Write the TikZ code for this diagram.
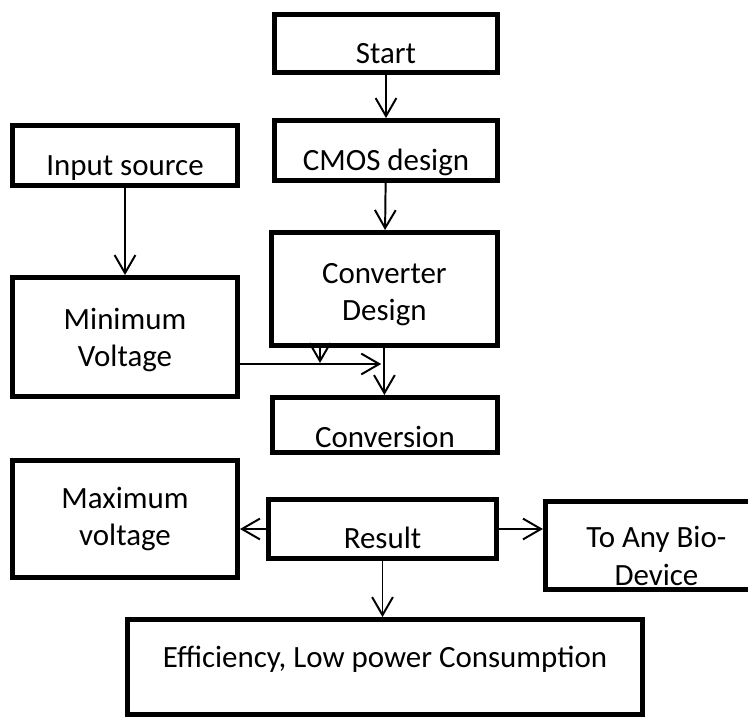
\documentclass[tikz,border=0pt]{standalone}
\usepackage{fontspec}
\setmainfont{Carlito}
\usetikzlibrary{arrows.meta, positioning, calc}

% text inside a box: first baseline raised by #1 from the box centre
\newcommand{\boxtext}[2]{\raisebox{#1}[0pt][0pt]{\begin{tabular}[t]{@{}c@{}}#2\end{tabular}}}

\begin{document}
\begin{tikzpicture}[
    block/.style={rectangle, draw=black, line width=3.5pt, fill=white,
                  font=\fontsize{22pt}{27pt}\selectfont, inner sep=0pt},
    arr/.style={-{Straight Barb[length=4.5mm, width=5.2mm]}, line width=1.4pt},
]
\useasboundingbox (0,0) rectangle (18.7,-17.95);

% Middle column
\node[block, minimum width=5.575cm, minimum height=1.45cm] (start) at (9.65,-1.0875) {\boxtext{-0.49cm}{Start}};
\node[block, minimum width=5.575cm, minimum height=1.5cm] (cmos) at (9.65,-3.7625) {\boxtext{-0.49cm}{CMOS design}};
\node[block, minimum width=5.65cm, minimum height=2.825cm] (design) at (9.61,-7.225) {\boxtext{0.15cm}{Converter\\Design}};
\node[block, minimum width=5.625cm, minimum height=1.375cm] (conversion) at (9.625,-10.625) {\boxtext{-0.55cm}{Conversion}};
\node[block, minimum width=5.7cm, minimum height=1.475cm] (result) at (9.5625,-13.225) {\boxtext{-0.475cm}{Result}};

% Left column
\node[block, minimum width=5.625cm, minimum height=1.5cm] (input) at (3.125,-3.8875) {\boxtext{-0.49cm}{Input source}};
\node[block, minimum width=5.625cm, minimum height=2.975cm] (minv) at (3.125,-8.425) {\boxtext{0.2cm}{Minimum\\Voltage}};
\node[block, minimum width=5.625cm, minimum height=2.925cm] (maxv) at (3.125,-12.975) {\boxtext{0.275cm}{Maximum\\voltage}};

% Right and bottom
\node[block, minimum width=5.55cm, minimum height=2.2cm] (bio) at (16.41,-13.6375) {\boxtext{-0.06cm}{To Any Bio-\\Device}};
\node[block, minimum width=12.875cm, minimum height=2.375cm] (eff) at (9.625,-16.675) {\boxtext{0cm}{Efficiency, Low power Consumption}};

% Where the voltage line meets the converter line
\coordinate (merge) at (9.53,-9.1);
\coordinate (tap) at (8.0,-9.075);

\draw[arr] (start) -- (cmos);
\draw[arr] (cmos) -- (design);
\draw[arr] (input) -- (minv);
\draw[arr] (design.south) -- (design.south |- conversion.north);
\draw[arr] (minv.east |- merge) -- (merge);
\draw[arr] (design.south -| tap) -- (tap);

% Result goes three ways
\draw[arr] (result.west) -- (result.west -| maxv.east);
\draw[arr] (result.east) -- (result.east -| bio.west);
\draw[arr] (result.south) -- (result.south |- eff.north);

\end{tikzpicture}
\end{document}
